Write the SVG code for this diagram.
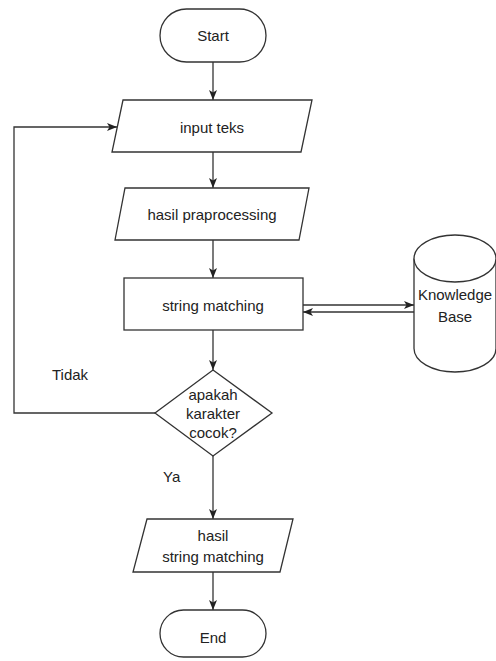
<svg xmlns="http://www.w3.org/2000/svg" width="496" height="661" viewBox="0 0 496 661">
<style>
.s{fill:#fff;stroke:#333;stroke-width:1.3}
.c{fill:none;stroke:#333;stroke-width:1.3}
text{font-family:"Liberation Sans",Arial,sans-serif;font-size:15px;fill:#222;text-anchor:middle}
.l{text-anchor:start}
</style>
<defs>
<marker id="a" markerUnits="userSpaceOnUse" markerWidth="10" markerHeight="10" viewBox="0 0 10 10" refX="10" refY="5" orient="auto">
<path d="M0,1 L10,5 L0,9 L2.5,5 Z" fill="#222"/>
</marker>
</defs>
<rect width="496" height="661" fill="#fff"/>
<g id="connectors">
<path class="c" d="M213,62 V100" marker-end="url(#a)"/>
<path class="c" d="M213,152 V188" marker-end="url(#a)"/>
<path class="c" d="M213,240 V278" marker-end="url(#a)"/>
<path class="c" d="M213,330 V370" marker-end="url(#a)"/>
<path class="c" d="M213,456 V519" marker-end="url(#a)"/>
<path class="c" d="M213,572 V610" marker-end="url(#a)"/>
<path class="c" d="M155,413 H14 V127 H117" marker-end="url(#a)"/>
<path class="c" d="M303,305 H414" marker-end="url(#a)"/>
<path class="c" d="M414,312 H303" marker-end="url(#a)"/>
<text class="l" x="52" y="380">Tidak</text>
<text class="l" x="163" y="482">Ya</text>
</g>
<g id="start">
<rect class="s" x="160" y="9" width="106" height="53" rx="26.5"/>
<text x="213" y="41">Start</text>
</g>
<g id="input">
<polygon class="s" points="123,100 312,100 301,152 112,152"/>
<text x="212" y="133">input teks</text>
</g>
<g id="praproc">
<polygon class="s" points="125,188 309,188 299,240 115,240"/>
<text x="212" y="220">hasil praprocessing</text>
</g>
<g id="matching">
<rect class="s" x="124" y="278" width="179" height="52"/>
<text x="213" y="311">string matching</text>
</g>
<g id="kb">
<path class="s" d="M414,258.5 V348.5 A41,23.5 0 0 0 496,348.5 V258.5"/>
<ellipse class="s" cx="455" cy="258.5" rx="41" ry="23.5"/>
<text x="455" y="300">Knowledge</text>
<text x="455" y="322">Base</text>
</g>
<g id="decision">
<polygon class="s" points="213,370 272,413 213,456 155,413"/>
<text x="213" y="400">apakah</text>
<text x="213" y="419">karakter</text>
<text x="213" y="438">cocok?</text>
</g>
<g id="result">
<polygon class="s" points="147,519 293,519 280,572 133,572"/>
<text x="213" y="541">hasil</text>
<text x="213" y="562">string matching</text>
</g>
<g id="end">
<rect class="s" x="160" y="610" width="106" height="47" rx="23.5"/>
<text x="213" y="643">End</text>
</g>
</svg>
